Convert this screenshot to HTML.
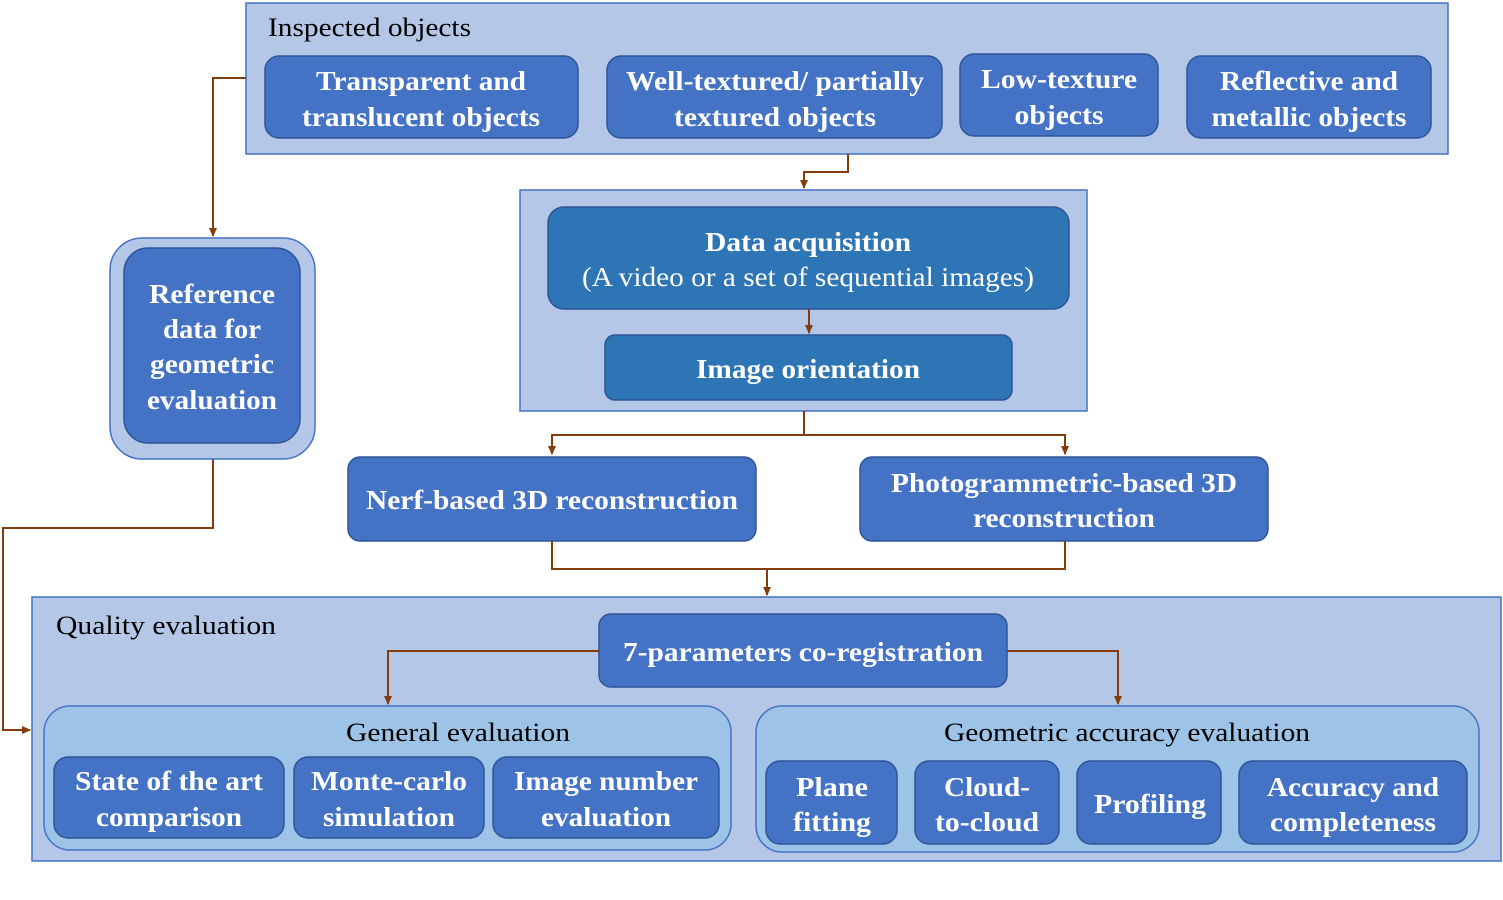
<!DOCTYPE html>
<html><head><meta charset="utf-8"><style>
html,body{margin:0;padding:0;background:#fff;}
svg{display:block}
text{font-family:"Liberation Serif",serif;}
.b{font-weight:bold;fill:#fff;font-size:27px;text-anchor:middle}
.n{fill:#000;font-size:26px}
.w{fill:#fff;font-size:27px;text-anchor:middle}
.box{fill:#4472C4;stroke:#2F5597;stroke-width:1.5}
.box2{fill:#2E75B6;stroke:#2F5597;stroke-width:1.5}
.pan{fill:#B4C7E7;stroke:#4472C4;stroke-width:1.5}
.pan2{fill:#9DC3E6;stroke:#4472C4;stroke-width:1.5}
.ln{fill:none;stroke:#843C0C;stroke-width:2}
</style></head><body>
<svg width="1503" height="900" viewBox="0 0 1503 900" xmlns="http://www.w3.org/2000/svg">
<defs><marker id="a" markerWidth="10" markerHeight="10" refX="8" refY="5" orient="auto" markerUnits="userSpaceOnUse"><path d="M0,1 L9,5 L0,9 z" fill="#843C0C"/></marker></defs>

<!-- Inspected objects -->
<rect class="pan" x="246" y="3" width="1202" height="151"/>
<text class="n" x="268" y="36" textLength="203" lengthAdjust="spacingAndGlyphs">Inspected objects</text>
<rect class="box" x="265" y="56" width="313" height="82" rx="14"/>
<text class="b" x="421" y="90" textLength="210" lengthAdjust="spacingAndGlyphs">Transparent and</text>
<text class="b" x="421" y="126" textLength="238" lengthAdjust="spacingAndGlyphs">translucent objects</text>
<rect class="box" x="607" y="56" width="335" height="82" rx="14"/>
<text class="b" x="775" y="90" textLength="298" lengthAdjust="spacingAndGlyphs">Well-textured/ partially</text>
<text class="b" x="775" y="126" textLength="202" lengthAdjust="spacingAndGlyphs">textured objects</text>
<rect class="box" x="960" y="54" width="198" height="82" rx="14"/>
<text class="b" x="1059" y="88" textLength="156" lengthAdjust="spacingAndGlyphs">Low-texture</text>
<text class="b" x="1059" y="124" textLength="89" lengthAdjust="spacingAndGlyphs">objects</text>
<rect class="box" x="1187" y="56" width="244" height="82" rx="14"/>
<text class="b" x="1309" y="90" textLength="178" lengthAdjust="spacingAndGlyphs">Reflective and</text>
<text class="b" x="1309" y="126" textLength="195" lengthAdjust="spacingAndGlyphs">metallic objects</text>

<!-- connectors -->
<path class="ln" d="M848,154 V172 H804 V188" marker-end="url(#a)"/>
<path class="ln" d="M246,78 H213 V236" marker-end="url(#a)"/>
<path class="ln" d="M213,459 V528 H3 V730 H30" marker-end="url(#a)"/>

<!-- Data acquisition panel -->
<rect class="pan" x="520" y="190" width="567" height="221"/>
<rect class="box2" x="548" y="207" width="521" height="102" rx="16"/>
<text class="b" x="808" y="251" textLength="206" lengthAdjust="spacingAndGlyphs">Data acquisition</text>
<text class="w" x="808" y="286" textLength="452" lengthAdjust="spacingAndGlyphs">(A video or a set of sequential images)</text>
<path class="ln" d="M809,309 V333" marker-end="url(#a)"/>
<rect class="box2" x="605" y="335" width="407" height="65" rx="10"/>
<text class="b" x="808" y="378" textLength="224" lengthAdjust="spacingAndGlyphs">Image orientation</text>

<path class="ln" d="M804,411 V435 M552,454 V435 H1065 V454" marker-end="url(#a)"/>
<path class="ln" d="M552,435 V454" marker-end="url(#a)"/>

<!-- Reference -->
<rect class="pan" x="110" y="238" width="205" height="221" rx="32"/>
<rect class="box" x="124" y="248" width="176" height="195" rx="24"/>
<text class="b" x="212" y="303" textLength="126" lengthAdjust="spacingAndGlyphs">Reference</text>
<text class="b" x="212" y="338" textLength="98" lengthAdjust="spacingAndGlyphs">data for</text>
<text class="b" x="212" y="373" textLength="124" lengthAdjust="spacingAndGlyphs">geometric</text>
<text class="b" x="212" y="409" textLength="130" lengthAdjust="spacingAndGlyphs">evaluation</text>

<!-- reconstructions -->
<rect class="box" x="348" y="457" width="408" height="84" rx="12"/>
<text class="b" x="552" y="509" textLength="372" lengthAdjust="spacingAndGlyphs">Nerf-based 3D reconstruction</text>
<rect class="box" x="860" y="457" width="408" height="84" rx="12"/>
<text class="b" x="1064" y="492" textLength="346" lengthAdjust="spacingAndGlyphs">Photogrammetric-based 3D</text>
<text class="b" x="1064" y="527" textLength="182" lengthAdjust="spacingAndGlyphs">reconstruction</text>
<path class="ln" d="M552,541 V569 H1065 V541 M767,569 V595" marker-end="url(#a)"/>

<!-- Quality evaluation -->
<rect class="pan" x="32" y="597" width="1469" height="264"/>
<text class="n" x="56" y="634" textLength="220" lengthAdjust="spacingAndGlyphs">Quality evaluation</text>
<rect class="box" x="599" y="614" width="408" height="73" rx="12"/>
<text class="b" x="803" y="661" textLength="360" lengthAdjust="spacingAndGlyphs">7-parameters co-registration</text>
<path class="ln" d="M599,651 H388 V704" marker-end="url(#a)"/>
<path class="ln" d="M1007,651 H1118 V704" marker-end="url(#a)"/>

<rect class="pan2" x="44" y="706" width="687" height="144" rx="26"/>
<text class="n" x="458" y="741" text-anchor="middle" textLength="224" lengthAdjust="spacingAndGlyphs">General evaluation</text>
<rect class="box" x="54" y="757" width="230" height="81" rx="14"/>
<text class="b" x="169" y="790" textLength="188" lengthAdjust="spacingAndGlyphs">State of the art</text>
<text class="b" x="169" y="826" textLength="146" lengthAdjust="spacingAndGlyphs">comparison</text>
<rect class="box" x="294" y="757" width="190" height="81" rx="14"/>
<text class="b" x="389" y="790" textLength="156" lengthAdjust="spacingAndGlyphs">Monte-carlo</text>
<text class="b" x="389" y="826" textLength="132" lengthAdjust="spacingAndGlyphs">simulation</text>
<rect class="box" x="493" y="757" width="226" height="81" rx="14"/>
<text class="b" x="606" y="790" textLength="184" lengthAdjust="spacingAndGlyphs">Image number</text>
<text class="b" x="606" y="826" textLength="130" lengthAdjust="spacingAndGlyphs">evaluation</text>

<rect class="pan2" x="756" y="706" width="723" height="146" rx="26"/>
<text class="n" x="1127" y="741" text-anchor="middle" textLength="366" lengthAdjust="spacingAndGlyphs">Geometric accuracy evaluation</text>
<rect class="box" x="766" y="761" width="131" height="83" rx="14"/>
<text class="b" x="832" y="796" textLength="72" lengthAdjust="spacingAndGlyphs">Plane</text>
<text class="b" x="832" y="831" textLength="78" lengthAdjust="spacingAndGlyphs">fitting</text>
<rect class="box" x="915" y="761" width="144" height="83" rx="14"/>
<text class="b" x="987" y="796" textLength="86" lengthAdjust="spacingAndGlyphs">Cloud-</text>
<text class="b" x="987" y="831" textLength="104" lengthAdjust="spacingAndGlyphs">to-cloud</text>
<rect class="box" x="1077" y="761" width="144" height="83" rx="14"/>
<text class="b" x="1150" y="813" textLength="112" lengthAdjust="spacingAndGlyphs">Profiling</text>
<rect class="box" x="1239" y="761" width="228" height="83" rx="14"/>
<text class="b" x="1353" y="796" textLength="172" lengthAdjust="spacingAndGlyphs">Accuracy and</text>
<text class="b" x="1353" y="831" textLength="166" lengthAdjust="spacingAndGlyphs">completeness</text>
</svg>
</body></html>
